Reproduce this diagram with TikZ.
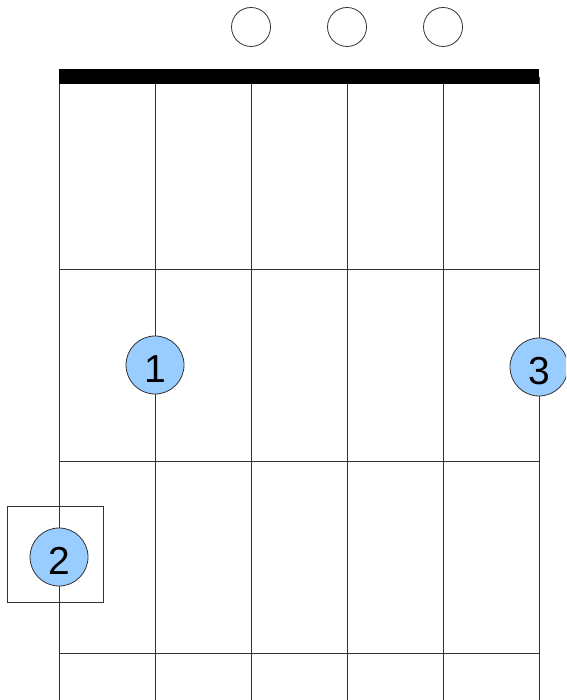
\documentclass[tikz,border=0pt]{standalone}
\usepackage{fontspec}
\setmainfont{Liberation Sans}
\definecolor{dotblue}{HTML}{99CCFF}
\definecolor{linegray}{HTML}{333333}
\begin{document}
\begin{tikzpicture}[x=1pt,y=-1pt,
  gridline/.style={draw=linegray,line width=0.8pt},
  fingerdot/.style={circle,draw=linegray,line width=0.8pt,fill=dotblue,minimum size=58pt,inner sep=0pt},
  fingertext/.style={font=\fontsize{39}{39}\selectfont,inner sep=0pt},
  opendot/.style={circle,draw=linegray,line width=0.8pt,fill=white,minimum size=39pt,inner sep=0pt}]
\useasboundingbox (0,0) rectangle (566,700);
\clip (0,0) rectangle (566,700);
% strings
\foreach \i in {0,...,5}{
  \draw[gridline] (59+96*\i,77) -- (59+96*\i,700);
}
% frets
\foreach \y in {269,461,653}{
  \draw[gridline] (59,\y) -- (539,\y);
}
% nut
\fill[black] (59,69.5) rectangle (539,84);
% open strings
\node[opendot] (o3) at (251,27) {};
\node[opendot] (o4) at (347,27) {};
\node[opendot] (o5) at (443,27) {};
% root box
\draw[draw=linegray,line width=0.8pt,fill=white] (7,506) rectangle (103,602);
\draw[gridline] (59,506) -- (59,602);
% fingers
\node[fingerdot] (f1) at (155,365) {};
\node[fingertext] at ([yshift=-4pt]f1.center) {1};
\node[fingerdot] (f3) at (539,367) {};
\node[fingertext] at ([yshift=-4pt]f3.center) {3};
\node[fingerdot] (f2) at (59,557) {};
\node[fingertext] at ([yshift=-4pt]f2.center) {2};
\end{tikzpicture}
\end{document}
